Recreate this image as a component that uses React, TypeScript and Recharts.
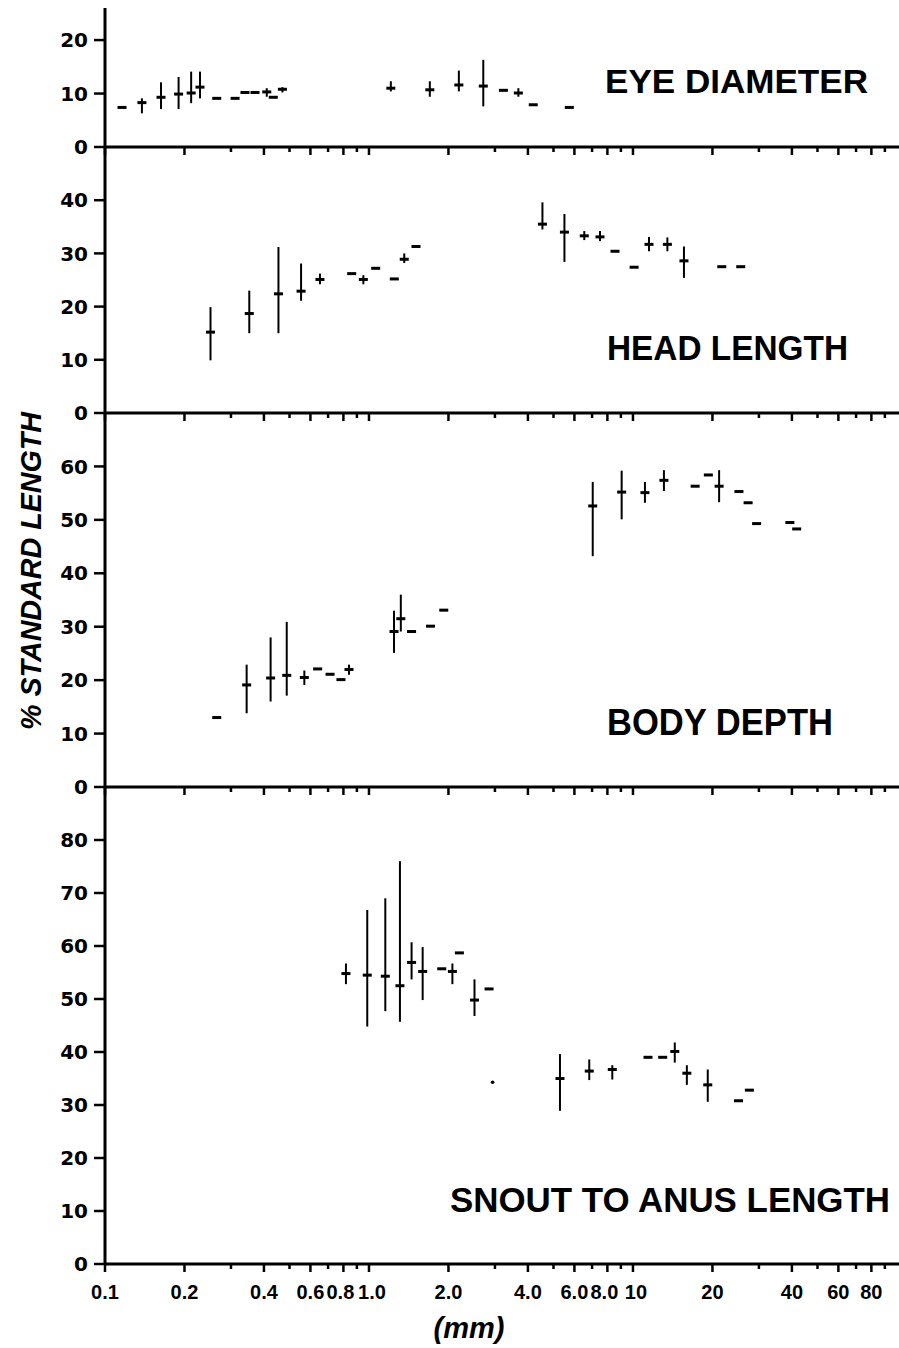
import React from 'react';
import { ScatterChart, Scatter, XAxis, YAxis, ErrorBar } from 'recharts';

// ---- x axis (body length, mm, log scale) ----
const xTicks = [0.1, 0.2, 0.3, 0.4, 0.5, 0.6, 0.7, 0.8, 0.9, 1, 2, 3, 4, 5, 6, 7, 8, 9, 10, 20, 30, 40, 50, 60, 70, 80, 90];
const xLabeledTicks = [0.1, 0.2, 0.4, 0.6, 0.8, 1, 2, 4, 6, 8, 10, 20, 40, 60, 80];
const xTickLabels = ['0.1', '0.2', '0.4', '0.6', '0.8', '1.0', '2.0', '4.0', '6.0', '8.0', '10', '20', '40', '60', '80'];

// ---- EYE DIAMETER ----
const eyeX = [0.116, 0.138, 0.163, 0.19, 0.212, 0.229, 0.265, 0.311, 0.339, 0.37, 0.41, 0.434, 0.47, 1.21, 1.7, 2.19, 2.71, 3.23, 3.68, 4.19, 5.74];
const eyeMean = [7.4, 8.3, 9.3, 9.9, 10.1, 11.2, 9.1, 9.1, 10.2, 10.2, 10.3, 9.3, 10.8, 11.0, 10.7, 11.6, 11.4, 10.6, 10.1, 7.9, 7.4];
const eyeLow = [null, 6.3, 7.1, 7.1, 8.2, 9.1, null, null, null, null, 9.4, null, 10.2, 10.4, 9.4, 10.4, 7.6, null, 9.4, null, null];
const eyeHigh = [null, 9.1, 12.1, 13.1, 14.1, 14.1, null, null, null, null, 11.0, null, 11.2, 12.3, 12.3, 14.3, 16.3, null, 11.0, null, null];
const eyeTicks = [0, 10, 20];

// ---- HEAD LENGTH ----
const headX = [0.251, 0.352, 0.454, 0.553, 0.652, 0.86, 0.952, 1.06, 1.247, 1.36, 1.507, 4.54, 5.5, 6.54, 7.5, 8.55, 10.1, 11.5, 13.5, 15.6, 21.7, 25.6];
const headMean = [15.2, 18.7, 22.4, 22.9, 25.1, 26.2, 25.1, 27.2, 25.2, 28.9, 31.3, 35.5, 34.0, 33.3, 33.1, 30.4, 27.4, 31.7, 31.7, 28.6, 27.5, 27.5];
const headLow = [9.9, 15.0, 15.0, 21.1, 24.2, null, 24.2, null, null, 28.2, null, 34.5, 28.4, 32.5, 32.3, null, null, 30.4, 30.4, 25.4, null, null];
const headHigh = [19.9, 23.0, 31.2, 28.1, 26.2, null, 25.9, null, null, 30.0, null, 39.6, 37.4, 34.2, 34.2, null, null, 33.1, 33.0, 31.3, null, null];
const headTicks = [0, 10, 20, 30, 40];

// ---- BODY DEPTH ----
const bodyX = [0.265, 0.344, 0.424, 0.488, 0.569, 0.639, 0.712, 0.783, 0.84, 1.244, 1.32, 1.45, 1.71, 1.92, 7.04, 9.06, 11.1, 13.1, 17.2, 19.3, 21.2, 25.2, 27.3, 29.4, 39.3, 41.7];
const bodyMean = [13.0, 19.1, 20.4, 20.9, 20.5, 22.1, 21.1, 20.1, 22.0, 29.1, 31.5, 29.1, 30.1, 33.1, 52.6, 55.2, 55.1, 57.4, 56.3, 58.4, 56.3, 55.3, 53.2, 49.3, 49.5, 48.3];
const bodyLow = [null, 13.8, 16.0, 17.1, 19.1, null, null, null, 21.0, 25.1, 29.1, null, null, null, 43.2, 50.1, 53.2, 55.4, null, null, 53.3, null, null, null, null, null];
const bodyHigh = [null, 22.9, 28.0, 30.9, 21.8, null, null, null, 22.9, 33.0, 36.0, null, null, null, 57.1, 59.2, 57.1, 59.3, null, null, 59.3, null, null, null, null, null];
const bodyTicks = [0, 10, 20, 30, 40, 50, 60];

// ---- SNOUT TO ANUS LENGTH ----
const snoutX = [0.818, 0.985, 1.153, 1.31, 1.45, 1.597, 1.886, 2.07, 2.2, 2.51, 2.85, 5.29, 6.83, 8.35, 11.4, 12.96, 14.4, 16.0, 19.2, 25.1, 27.6];
const snoutMean = [54.8, 54.5, 54.3, 52.5, 56.9, 55.2, 55.7, 55.2, 58.7, 49.8, 51.9, 35.0, 36.4, 36.7, 39.0, 39.0, 40.1, 36.0, 33.8, 30.8, 32.8];
const snoutLow = [52.8, 44.8, 47.7, 45.7, 53.7, 49.8, null, 52.8, null, 46.8, null, 28.9, 34.7, 34.8, null, null, 38.0, 33.8, 30.6, null, null];
const snoutHigh = [56.7, 66.8, 69.0, 76.0, 60.7, 59.8, null, 56.7, null, 53.7, null, 39.6, 38.6, 37.5, null, null, 41.8, 37.5, 36.7, null, null];
const snoutDotX = [2.94];
const snoutDotY = [34.3];
const snoutTicks = [0, 10, 20, 30, 40, 50, 60, 70, 80];

const FONT = 'DejaVu Sans';
const TITLE_FONT = 'Liberation Sans';

type Pt = { x: number; y: number; err: [number, number] };
function build(xs: number[], ys: number[], lo: (number | null)[], hi: (number | null)[]): Pt[] {
  return xs.map((x, i) => {
    const l = lo[i];
    const h = hi[i];
    return {
      x,
      y: ys[i],
      err: l == null || h == null ? [0, 0] : [ys[i] - l, h - ys[i]],
    };
  });
}

const Dash = (props: any) => {
  const { cx, cy } = props;
  if (cx == null || cy == null) return null;
  return <rect x={cx - 4.5} y={cy - 1.5} width={9} height={3} fill="#000" />;
};

const Dot = (props: any) => {
  const { cx, cy } = props;
  if (cx == null || cy == null) return null;
  return <circle cx={cx} cy={cy} r={1.8} fill="#000" />;
};

// small nudges so crowded labels sit apart as in the original lettering
const labelNudge: Record<string, number> = { '0.8': -3, '1.0': 3, '8.0': -3, '10': 3 };

const XTick = (props: any) => {
  const { x, y, payload, showLabel } = props;
  const v = payload.value;
  const idx = xLabeledTicks.findIndex((t) => Math.abs(t - v) < 1e-9);
  const major = idx >= 0;
  const lbl = major ? xTickLabels[idx] : '';
  return (
    <g>
      <line x1={x} x2={x} y1={y} y2={y + (major ? 8 : 5)} stroke="#000" strokeWidth={2.5} />
      {showLabel && major ? (
        <text
          x={x + (labelNudge[lbl] || 0)}
          y={y + 35}
          textAnchor="middle"
          fontFamily={TITLE_FONT}
          fontWeight="bold"
          fontSize={20}
          fill="#000"
        >
          {lbl}
        </text>
      ) : null}
    </g>
  );
};

type PanelProps = {
  top: number;
  marginTop: number;
  plotHeight: number;
  xAxisHeight: number;
  yMax: number;
  yTicks: number[];
  data: Pt[];
  dots?: { x: number; y: number }[];
  bottom?: boolean;
};

const Panel = ({ top, marginTop, plotHeight, xAxisHeight, yMax, yTicks, data, dots, bottom }: PanelProps) => (
  <div style={{ position: 'absolute', left: 0, top }}>
    <ScatterChart
      width={899}
      height={marginTop + plotHeight + xAxisHeight}
      margin={{ top: marginTop, right: 0, bottom: 0, left: 0 }}
    >
      <XAxis
        dataKey="x"
        type="number"
        scale="log"
        domain={[0.1, 101.8]}
        allowDataOverflow
        ticks={xTicks}
        interval={0}
        height={xAxisHeight}
        tickSize={0}
        tickMargin={0}
        tickLine={false}
        axisLine={{ stroke: '#000', strokeWidth: 3 }}
        tick={<XTick showLabel={!!bottom} />}
      />
      <YAxis
        dataKey="y"
        type="number"
        domain={[0, yMax]}
        allowDataOverflow
        ticks={yTicks}
        interval={0}
        width={105}
        tickSize={11}
        tickMargin={6}
        tickLine={{ stroke: '#000', strokeWidth: 2.5 }}
        axisLine={{ stroke: '#000', strokeWidth: 3 }}
        tick={{ fill: '#000', fontSize: 20, fontWeight: 'bold', fontFamily: FONT }}
      />
      <Scatter data={data} shape={<Dash />} isAnimationActive={false}>
        <ErrorBar dataKey="err" direction="y" width={0} stroke="#000" strokeWidth={2} isAnimationActive={false} />
      </Scatter>
      {dots ? <Scatter data={dots} shape={<Dot />} isAnimationActive={false} /> : null}
    </ScatterChart>
  </div>
);

const titleStyle = { fontFamily: TITLE_FONT, fontWeight: 'bold' as const, fill: '#000' };

export default function App() {
  const eye = build(eyeX, eyeMean, eyeLow, eyeHigh);
  const head = build(headX, headMean, headLow, headHigh);
  const body = build(bodyX, bodyMean, bodyLow, bodyHigh);
  const snout = build(snoutX, snoutMean, snoutLow, snoutHigh);
  const sDots = snoutDotX.map((x, i) => ({ x, y: snoutDotY[i] }));
  return (
    <div style={{ position: 'absolute', left: 0, top: 0, width: 899, height: 1348, background: '#fff' }}>
      <Panel top={0} marginTop={8} plotHeight={139} xAxisHeight={12} yMax={26} yTicks={eyeTicks} data={eye} />
      <Panel top={147} marginTop={0} plotHeight={266} xAxisHeight={12} yMax={50} yTicks={headTicks} data={head} />
      <Panel top={413} marginTop={0} plotHeight={374} xAxisHeight={12} yMax={70} yTicks={bodyTicks} data={body} />
      <Panel top={787} marginTop={0} plotHeight={477} xAxisHeight={84} yMax={90} yTicks={snoutTicks} data={snout} dots={sDots} bottom />
      <svg width={899} height={1348} style={{ position: 'absolute', left: 0, top: 0, pointerEvents: 'none' }}>
        <text x={605} y={93} fontSize={33} textLength={263} lengthAdjust="spacingAndGlyphs" {...titleStyle}>
          EYE DIAMETER
        </text>
        <text x={607} y={360} fontSize={35} textLength={241} lengthAdjust="spacingAndGlyphs" {...titleStyle}>
          HEAD LENGTH
        </text>
        <text x={607} y={735} fontSize={36} textLength={226} lengthAdjust="spacingAndGlyphs" {...titleStyle}>
          BODY DEPTH
        </text>
        <text x={450} y={1212} fontSize={35} textLength={440} lengthAdjust="spacingAndGlyphs" {...titleStyle}>
          SNOUT TO ANUS LENGTH
        </text>
        <text
          x={41}
          y={571}
          transform="rotate(-90 41 571)"
          textAnchor="middle"
          fontSize={29}
          fontStyle="italic"
          textLength={318}
          lengthAdjust="spacingAndGlyphs"
          {...titleStyle}
        >
          % STANDARD LENGTH
        </text>
        <text x={469} y={1338} textAnchor="middle" fontSize={29} fontStyle="italic" {...titleStyle}>
          (mm)
        </text>
      </svg>
    </div>
  );
}
